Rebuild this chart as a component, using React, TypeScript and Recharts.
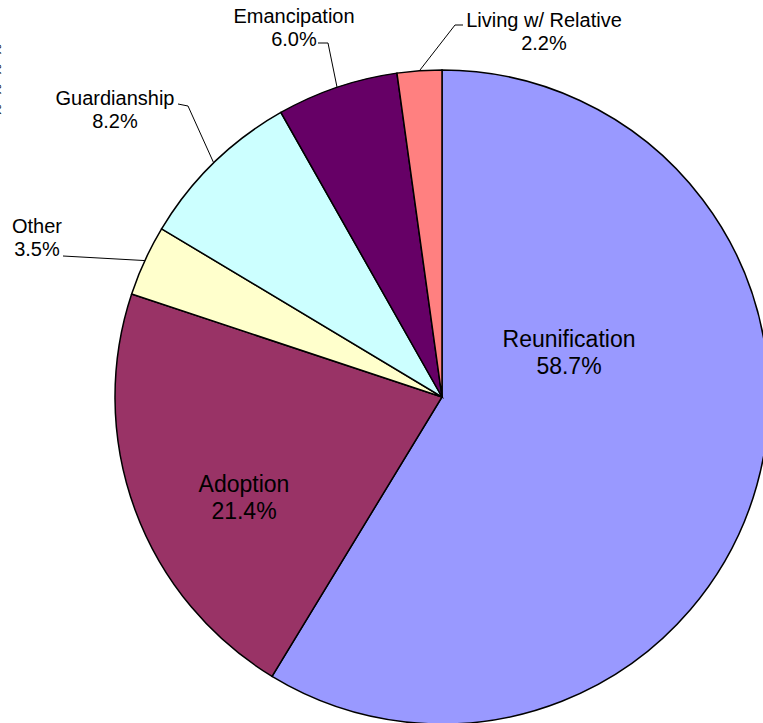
import React from 'react';
import { PieChart, Pie, Cell } from 'recharts';

// Exit outcomes, clockwise from 12 o'clock
const categories = ['Reunification', 'Adoption', 'Other', 'Guardianship', 'Emancipation', 'Living w/ Relative'];
const shares = [58.7, 21.4, 3.5, 8.2, 6.0, 2.2];
const colors = ['#9999FF', '#993366', '#FFFFCC', '#CCFFFF', '#660066', '#FF8080'];

const chartData = categories.map((name, i) => ({ name, value: shares[i] }));

const RAD = Math.PI / 180;
const FONT = '"Liberation Sans", Arial, sans-serif';

// hand placed labels, offsets relative to pie centre (like the Excel original)
type Layout = {
  inside?: boolean;
  tx: number; // text centre x
  ty: number; // first baseline
  attach?: [number, number];
  elbow?: [number, number];
};

const labelLayout: Record<string, Layout> = {
  'Reunification': { inside: true, tx: 127, ty: -50 },
  'Adoption': { inside: true, tx: -198, ty: 95 },
  'Other': { tx: -405, ty: -164, attach: [-379, -141] },
  'Guardianship': { tx: -327, ty: -292, attach: [-264, -293], elbow: [-254, -291] },
  'Emancipation': { tx: -148, ty: -374, attach: [-124, -354], elbow: [-114, -354] },
  'Living w/ Relative': { tx: 102, ty: -370, attach: [21, -372], elbow: [13, -372] },
};

const renderLabel = (props: any) => {
  const { cx, cy, midAngle, outerRadius, name, value } = props;
  const l = labelLayout[name];
  if (!l) return null;
  const size = l.inside ? 23 : 20;
  const gap = l.inside ? 27 : 23;
  const x = cx + l.tx;
  const y = cy + l.ty;
  let line = null;
  if (l.attach) {
    const ex = cx + outerRadius * Math.cos(-midAngle * RAD);
    const ey = cy + outerRadius * Math.sin(-midAngle * RAD);
    const pts = [[cx + l.attach[0], cy + l.attach[1]]];
    if (l.elbow) pts.push([cx + l.elbow[0], cy + l.elbow[1]]);
    pts.push([ex, ey]);
    line = (
      <polyline
        points={pts.map((p) => p.join(',')).join(' ')}
        fill="none"
        stroke="#000"
        strokeWidth={1}
      />
    );
  }
  return (
    <g>
      {line}
      <text x={x} y={y} textAnchor="middle" fontSize={size} fontFamily={FONT} fill="#000">
        <tspan x={x}>{name}</tspan>
        <tspan x={x} dy={gap}>{value.toFixed(1)}%</tspan>
      </text>
    </g>
  );
};

export default function App() {
  return (
    <div style={{ position: 'absolute', left: 0, top: 0, width: 763, height: 723, overflow: 'hidden', background: '#fff' }}>
      <PieChart width={763} height={723} margin={{ top: 0, right: 0, bottom: 0, left: 0 }}>
        {/* clipped remnant of rotated text at the left edge */}
        <text
          x={-9}
          y={44}
          transform="rotate(90 -9 44)"
          fontSize={14}
          letterSpacing={7.6}
          fontFamily={FONT}
          fill="#000"
        >
          %%%%
        </text>
        <Pie
          data={chartData}
          dataKey="value"
          nameKey="name"
          cx={442}
          cy={397}
          outerRadius={327}
          startAngle={90}
          endAngle={-270}
          stroke="#000"
          strokeWidth={1.5}
          label={renderLabel}
          labelLine={false}
          isAnimationActive={false}
        >
          {chartData.map((entry, index) => (
            <Cell key={`cell-${index}`} fill={colors[index]} />
          ))}
        </Pie>
      </PieChart>
    </div>
  );
}
